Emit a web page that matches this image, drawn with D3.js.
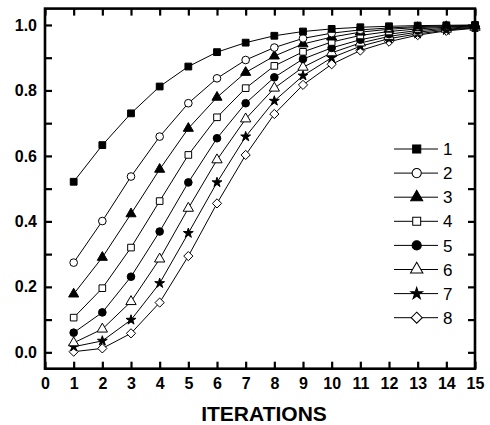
<!DOCTYPE html>
<html>
<head>
<meta charset="utf-8">
<script src="https://cdn.jsdelivr.net/npm/d3@7"></script>
<style>
  body { margin: 0; background: #fff; }
  svg { display: block; font-family: Arial, "Liberation Sans", sans-serif; }
</style>
</head>
<body>
<div id="chart"></div>
<script>
const width = 490;
const height = 425;

// data
const iterations = [1, 2, 3, 4, 5, 6, 7, 8, 9, 10, 11, 12, 13, 14, 15];
const seriesNames = ["1", "2", "3", "4", "5", "6", "7", "8"];
const s1 = [0.521, 0.633, 0.730, 0.812, 0.873, 0.917, 0.946, 0.967, 0.980, 0.988, 0.993, 0.996, 0.998, 0.999, 1.000];
const s2 = [0.274, 0.401, 0.537, 0.659, 0.761, 0.837, 0.893, 0.931, 0.959, 0.975, 0.985, 0.991, 0.995, 0.997, 0.999];
const s3 = [0.178, 0.290, 0.423, 0.559, 0.684, 0.779, 0.855, 0.905, 0.942, 0.963, 0.978, 0.987, 0.992, 0.995, 0.998];
const s4 = [0.106, 0.196, 0.320, 0.462, 0.603, 0.718, 0.807, 0.875, 0.918, 0.948, 0.968, 0.980, 0.988, 0.993, 0.997];
const s5 = [0.060, 0.122, 0.231, 0.369, 0.519, 0.654, 0.761, 0.840, 0.896, 0.930, 0.955, 0.972, 0.983, 0.990, 0.995];
const s6 = [0.029, 0.071, 0.155, 0.285, 0.440, 0.588, 0.713, 0.807, 0.871, 0.915, 0.945, 0.965, 0.978, 0.987, 0.993];
const s7 = [0.017, 0.035, 0.099, 0.211, 0.364, 0.519, 0.659, 0.768, 0.845, 0.900, 0.935, 0.958, 0.973, 0.984, 0.992];
const s8 = [0.002, 0.012, 0.058, 0.152, 0.294, 0.455, 0.603, 0.728, 0.817, 0.880, 0.922, 0.949, 0.969, 0.982, 0.990];
const allSeries = [s1, s2, s3, s4, s5, s6, s7, s8];

const xTicks = d3.range(0, 16);
const yTicks = [0, 0.1, 0.2, 0.3, 0.4, 0.5, 0.6, 0.7, 0.8, 0.9, 1.0];
const yLabels = ["0.0", "", "0.2", "", "0.4", "", "0.6", "", "0.8", "", "1.0"];

const plotLeft = 45, plotRight = 475, plotTop = 8.6, plotBottom = 368.7;

const x = d3.scaleLinear().domain([0, 15]).range([plotLeft, plotRight]);
const y = d3.scaleLinear().domain([-0.05, 1.05]).range([plotBottom, plotTop]);

const svg = d3.select("#chart")
    .append("svg")
    .attr("width", width)
    .attr("height", height);

// marker shapes
const diamondPath = s => `M0,${-s}L${s},0L0,${s}L${-s},0Z`;
const markers = [
    { path: d3.symbol(d3.symbolSquare, 46)(), fill: "#000" },
    { path: d3.symbol(d3.symbolCircle, 46)(), fill: "#fff" },
    { path: d3.symbol(d3.symbolTriangle, 44)(), fill: "#000" },
    { path: d3.symbol(d3.symbolSquare, 44)(), fill: "#fff" },
    { path: d3.symbol(d3.symbolCircle, 46)(), fill: "#000" },
    { path: d3.symbol(d3.symbolTriangle, 46)(), fill: "#fff" },
    { path: d3.symbol(d3.symbolStar, 30)(), fill: "#000" },
    { path: diamondPath(4.6), fill: "#fff" }
];

const line = d3.line()
    .x((d, i) => x(iterations[i]))
    .y(d => y(d));

const plot = svg.append("g");

// lines first (back to front: series 8 ... 1)
allSeries.slice().reverse().forEach((vals, ri) => {
    const k = allSeries.length - 1 - ri;
    plot.append("path")
        .attr("d", line(vals))
        .attr("fill", "none")
        .attr("stroke", "#000")
        .attr("stroke-width", 1);
    plot.append("g")
        .selectAll("path")
        .data(vals)
        .join("path")
        .attr("d", markers[k].path)
        .attr("transform", (d, i) => `translate(${x(iterations[i])},${y(d)})`)
        .attr("fill", markers[k].fill)
        .attr("stroke", "#000")
        .attr("stroke-width", 1);
});

// axes with inward ticks
const xAxis = svg.append("g")
    .attr("transform", `translate(0,${plotBottom})`)
    .call(d3.axisBottom(x).tickValues(xTicks).tickSize(-7).tickSizeOuter(0).tickPadding(9));
const yAxis = svg.append("g")
    .attr("transform", `translate(${plotLeft},0)`)
    .call(d3.axisLeft(y).tickValues(yTicks).tickSize(-7).tickSizeOuter(0).tickPadding(8)
        .tickFormat((d, i) => yLabels[i]));
const xTop = svg.append("g")
    .attr("transform", `translate(0,${plotTop})`)
    .call(d3.axisTop(x).tickValues(xTicks).tickSize(-7).tickSizeOuter(0).tickFormat(""));
const yRight = svg.append("g")
    .attr("transform", `translate(${plotRight},0)`)
    .call(d3.axisRight(y).tickValues(yTicks).tickSize(-7).tickSizeOuter(0).tickFormat(""));

[xAxis, yAxis, xTop, yRight].forEach(a => {
    a.select(".domain").remove();
    a.selectAll(".tick line").attr("stroke", "#000").attr("stroke-width", 2.2);
    a.selectAll(".tick text")
        .attr("fill", "#000")
        .style("font-size", "16px")
        .style("font-weight", "bold")
        .style("font-family", "Arial, 'Liberation Sans', sans-serif");
});

// frame
svg.append("rect")
    .attr("x", plotLeft)
    .attr("y", plotTop)
    .attr("width", plotRight - plotLeft)
    .attr("height", plotBottom - plotTop)
    .attr("fill", "none")
    .attr("stroke", "#000")
    .attr("stroke-width", 2.6);

// x axis title
svg.append("text")
    .attr("x", 264)
    .attr("y", 421)
    .attr("text-anchor", "middle")
    .style("font-size", "21px")
    .style("font-weight", "bold")
    .text("ITERATIONS");

// legend
const legend = svg.append("g");
const legendY = d3.scaleLinear().domain([0, 7]).range([149, 317.7]);
seriesNames.forEach((name, k) => {
    const ly = legendY(k);
    legend.append("line")
        .attr("x1", 394).attr("x2", 438)
        .attr("y1", ly).attr("y2", ly)
        .attr("stroke", "#000")
        .attr("stroke-width", 1);
    legend.append("path")
        .attr("d", markers[k].path)
        .attr("transform", `translate(416.7,${ly}) scale(1.2)`)
        .attr("fill", markers[k].fill)
        .attr("stroke", "#000")
        .attr("stroke-width", 0.85);
    legend.append("text")
        .attr("x", 443)
        .attr("y", ly)
        .attr("dy", "0.36em")
        .style("font-size", "17px")
        .text(name);
});
</script>
</body>
</html>
